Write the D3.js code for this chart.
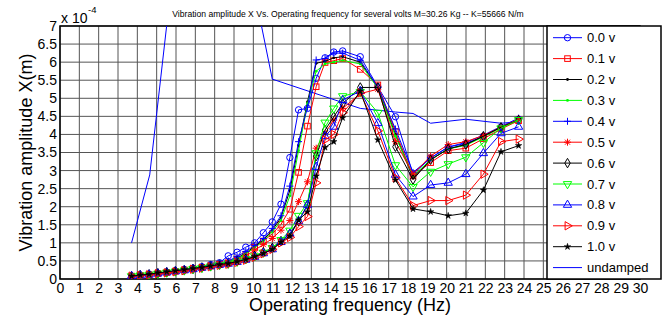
<!DOCTYPE html>
<html>
<head>
<meta charset="utf-8">
<script src="https://cdn.jsdelivr.net/npm/d3@7"></script>
<style>
body{margin:0;background:#fff;}
svg{display:block;font-family:"Liberation Sans",Arial,sans-serif;}
</style>
</head>
<body>
<svg></svg>
<script>
// measured operating frequencies (Hz), shared by every voltage run
var freqs = [3.70,4.15,4.61,5.06,5.52,5.97,6.43,6.88,7.34,7.79,8.25,8.70,9.16,9.61,10.07,10.52,10.98,11.43,11.89,12.34,12.80,13.25,13.71,14.16,14.62,15.53,16.44,17.35,18.26,19.17,20.08,20.99,21.90,22.81,23.72];

// amplitudes in units of 1e-4 m
var amp00 = [0.08,0.10,0.13,0.16,0.19,0.22,0.26,0.30,0.34,0.40,0.45,0.64,0.74,0.88,1.00,1.28,1.58,2.07,3.36,4.68,4.72,5.55,6.12,6.28,6.31,6.15,5.32,4.49,2.90,3.35,3.65,3.75,3.95,4.20,4.42];
var amp01 = [0.08,0.10,0.12,0.15,0.18,0.21,0.25,0.28,0.32,0.36,0.40,0.45,0.55,0.68,0.88,1.05,1.25,1.51,1.93,2.95,4.23,5.32,5.99,6.04,6.10,5.80,5.37,4.08,2.85,3.22,3.55,3.62,3.88,4.15,4.38];
var amp02 = [0.08,0.11,0.13,0.16,0.19,0.22,0.25,0.29,0.33,0.37,0.42,0.48,0.58,0.72,0.90,1.08,1.35,1.70,2.45,3.70,4.90,5.97,6.02,6.12,6.15,6.00,5.30,4.00,2.80,3.30,3.60,3.72,3.95,4.20,4.40];
var amp03 = [0.08,0.10,0.12,0.15,0.18,0.21,0.24,0.28,0.32,0.36,0.40,0.46,0.56,0.70,0.87,1.05,1.30,1.62,2.30,3.55,4.85,5.75,5.95,6.00,6.05,5.95,5.28,3.95,2.85,3.30,3.60,3.70,3.93,4.18,4.42];
var amp04 = [0.08,0.11,0.13,0.16,0.19,0.22,0.26,0.30,0.34,0.38,0.43,0.50,0.62,0.76,0.93,1.12,1.40,1.75,2.57,3.80,4.75,6.06,6.10,6.25,6.25,6.05,5.30,4.15,2.95,3.35,3.65,3.78,3.98,4.22,4.45];
var amp05 = [0.08,0.10,0.12,0.15,0.18,0.21,0.24,0.28,0.32,0.36,0.40,0.44,0.52,0.63,0.80,0.95,1.12,1.35,1.62,2.14,2.69,3.62,4.03,4.40,4.72,5.13,5.25,3.80,2.90,3.40,3.72,3.80,3.97,4.20,4.42];
var amp06 = [0.08,0.11,0.13,0.16,0.19,0.22,0.25,0.28,0.32,0.36,0.40,0.43,0.49,0.56,0.64,0.74,0.86,1.05,1.25,1.60,2.05,3.40,4.12,4.49,4.85,5.30,5.30,3.66,2.75,3.30,3.60,3.72,3.95,4.20,4.40];
var amp07 = [0.08,0.10,0.12,0.15,0.18,0.21,0.24,0.28,0.31,0.35,0.39,0.43,0.48,0.55,0.63,0.73,0.86,1.08,1.34,1.75,2.10,3.48,4.33,4.72,5.06,5.18,4.60,3.15,2.55,2.97,3.18,3.37,3.77,4.17,4.40];
var amp08 = [0.08,0.10,0.12,0.15,0.18,0.21,0.24,0.27,0.31,0.35,0.39,0.42,0.47,0.53,0.61,0.71,0.82,1.02,1.25,1.60,2.05,3.10,3.95,4.21,4.95,5.20,4.31,2.88,2.28,2.60,2.66,2.90,3.48,4.03,4.21];
var amp09 = [0.08,0.10,0.12,0.15,0.17,0.20,0.23,0.27,0.30,0.34,0.38,0.41,0.46,0.52,0.60,0.70,0.82,1.00,1.15,1.45,1.73,2.66,3.85,4.00,4.60,5.15,4.10,2.80,2.03,2.17,2.17,2.32,2.90,3.80,3.87];
var amp10 = [0.08,0.11,0.13,0.17,0.20,0.23,0.26,0.29,0.32,0.36,0.40,0.43,0.48,0.54,0.62,0.71,0.82,1.02,1.19,1.63,1.86,2.85,3.64,3.80,4.46,5.20,3.85,2.74,1.94,1.86,1.75,1.82,2.46,3.52,3.69];

// theoretical undamped response (goes off the top of the axes near resonance)
var undampedFreqs = [3.70,4.64,5.60,10.07,10.98,15.53,17.35,18.26,19.17,20.99,22.81,23.72];
var undampedAmp = [1.00,2.88,7.40,7.93,5.53,4.72,4.62,4.58,4.31,4.42,4.31,4.35];

var voltLabels = ["0.0 v","0.1 v","0.2 v","0.3 v","0.4 v","0.5 v","0.6 v","0.7 v","0.8 v","0.9 v","1.0 v"];
var xTicks = [0,1,2,3,4,5,6,7,8,9,10,11,12,13,14,15,16,17,18,19,20,21,22,23,24,25,26,27,28,29,30];
var yTicks = [0,0.5,1,1.5,2,2.5,3,3.5,4,4.5,5,5.5,6,6.5,7];

var series = [
  {name:voltLabels[0], values:amp00, color:"#0000ff", marker:"o"},
  {name:voltLabels[1], values:amp01, color:"#ff0000", marker:"s"},
  {name:voltLabels[2], values:amp02, color:"#000000", marker:"."},
  {name:voltLabels[3], values:amp03, color:"#00ff00", marker:"."},
  {name:voltLabels[4], values:amp04, color:"#0000ff", marker:"+"},
  {name:voltLabels[5], values:amp05, color:"#ff0000", marker:"*"},
  {name:voltLabels[6], values:amp06, color:"#000000", marker:"d"},
  {name:voltLabels[7], values:amp07, color:"#00ff00", marker:"v"},
  {name:voltLabels[8], values:amp08, color:"#0000ff", marker:"^"},
  {name:voltLabels[9], values:amp09, color:"#ff0000", marker:">"},
  {name:voltLabels[10], values:amp10, color:"#000000", marker:"p"}
];

var screen = {width:668, height:320};
var margins = {top:26, bottom:41, left:60, right:28};
var width = screen.width - margins.left - margins.right;
var height = screen.height - margins.top - margins.bottom;

var svg = d3.select("svg")
            .attr("width",screen.width)
            .attr("height",screen.height);

var xScale = d3.scaleLinear().domain([0,30]).range([0,width]);
var yScale = d3.scaleLinear().domain([0,7]).range([height,0]);

svg.append("defs").append("clipPath").attr("id","plotClip")
   .append("rect").attr("width",width).attr("height",height);

var plotLand = svg.append("g")
                  .attr("transform","translate("+margins.left+","+margins.top+")");

// grid
plotLand.append("g").selectAll("line").data(xTicks).enter().append("line")
        .attr("x1",function(d){return xScale(d);}).attr("x2",function(d){return xScale(d);})
        .attr("y1",0).attr("y2",height)
        .attr("stroke","#555").attr("stroke-width",1);
plotLand.append("g").selectAll("line").data(yTicks).enter().append("line")
        .attr("y1",function(d){return yScale(d);}).attr("y2",function(d){return yScale(d);})
        .attr("x1",0).attr("x2",width)
        .attr("stroke","#555").attr("stroke-width",1);

// axes
var xAxis = d3.axisBottom(xScale).tickValues(xTicks).tickSizeInner(0).tickSizeOuter(0).tickPadding(4);
var yAxis = d3.axisLeft(yScale).tickValues(yTicks).tickSizeInner(0).tickSizeOuter(0).tickPadding(3)
              .tickFormat(function(d){return d3.format("")(d);});

var gx = plotLand.append("g").attr("transform","translate(0,"+height+")").call(xAxis);
var gy = plotLand.append("g").call(yAxis);
[gx,gy].forEach(function(g){
  g.select(".domain").remove();
  g.selectAll("text").attr("font-size",14).attr("fill","#000")
   .attr("font-family","'Liberation Sans',Arial,sans-serif");
});

plotLand.append("rect").attr("width",width).attr("height",height)
        .attr("fill","none").attr("stroke","#000").attr("stroke-width",1.5);

// marker shapes
function drawMarker(g, type, color)
{
  if (type=="o") {
    g.append("circle").attr("r",3.2).attr("fill","none").attr("stroke",color);
  } else if (type=="s") {
    g.append("rect").attr("x",-2.8).attr("y",-2.8).attr("width",5.6).attr("height",5.6)
     .attr("fill","none").attr("stroke",color);
  } else if (type==".") {
    g.append("circle").attr("r",1.4).attr("fill",color);
  } else if (type=="+") {
    g.append("path").attr("d","M-3.5,0H3.5M0,-3.5V3.5").attr("stroke",color);
  } else if (type=="*") {
    g.append("path").attr("d","M-3.5,0H3.5M0,-3.5V3.5M-2.5,-2.5L2.5,2.5M-2.5,2.5L2.5,-2.5").attr("stroke",color);
  } else if (type=="d") {
    g.append("path").attr("d",d3.symbol(d3.symbolDiamond,26)()).attr("fill","none").attr("stroke",color);
  } else if (type=="v" || type=="^" || type==">") {
    var rot = type=="^" ? 0 : (type=="v" ? 180 : 90);
    g.append("path").attr("d",d3.symbol(d3.symbolTriangle,30)())
     .attr("transform","rotate("+rot+")")
     .attr("fill","none").attr("stroke",color);
  } else if (type=="p") {
    g.append("path").attr("d",d3.symbol(d3.symbolStar,13)()).attr("fill",color).attr("stroke",color).attr("stroke-width",0.5);
  }
}

var line = d3.line()
             .x(function(d){return xScale(d[0]);})
             .y(function(d){return yScale(d[1]);});

var curves = plotLand.append("g").attr("clip-path","url(#plotClip)");

curves.append("path")
      .datum(d3.zip(undampedFreqs,undampedAmp))
      .attr("d",line)
      .attr("fill","none").attr("stroke","#0000ff").attr("stroke-width",1);

var runs = curves.selectAll("g.run")
                 .data(series)
                 .enter()
                 .append("g")
                 .classed("run",true);

runs.append("path")
    .attr("d",function(d){return line(d3.zip(freqs,d.values));})
    .attr("fill","none")
    .attr("stroke",function(d){return d.color;})
    .attr("stroke-width",1);

runs.each(function(s){
  var pts = d3.select(this).selectAll("g.pt")
              .data(d3.zip(freqs,s.values))
              .enter().append("g")
              .attr("transform",function(d){return "translate("+xScale(d[0])+","+yScale(d[1])+")";});
  pts.each(function(){ drawMarker(d3.select(this), s.marker, s.color); });
});

// texts
svg.append("text").attr("x",348).attr("y",17).attr("text-anchor","middle")
   .attr("font-size",8.6)
   .text("Vibration amplitude X Vs. Operating frequency for several volts M=30.26 Kg -- K=55666 N/m");

svg.append("text").attr("x",61).attr("y",23).attr("font-size",14).text("x 10");
svg.append("text").attr("x",88).attr("y",13).attr("font-size",9.5).text("-4");

svg.append("text").attr("x",margins.left+width/2).attr("y",311).attr("text-anchor","middle")
   .attr("font-size",18).text("Operating frequency (Hz)");

svg.append("text").attr("transform","translate(31.5,"+(margins.top+height/2)+") rotate(-90)")
   .attr("text-anchor","middle").attr("font-size",18).text("Vibration amplitude X(m)");

// legend
var legendItems = series.concat([{name:"undamped", color:"#0000ff", marker:null}]);
var legend = svg.append("g").attr("transform","translate(547,26)");
legend.append("rect").attr("width",114).attr("height",253)
      .attr("fill","#fff").attr("stroke","#000").attr("stroke-width",1.5);

var legendLines = legend.selectAll("g.leg")
                        .data(legendItems)
                        .enter()
                        .append("g")
                        .attr("transform",function(d,i){return "translate(0,"+(11.7+i*20.9)+")";});

legendLines.append("line").attr("x1",6).attr("x2",35).attr("y1",0).attr("y2",0)
           .attr("stroke",function(d){return d.color;}).attr("stroke-width",1);
legendLines.each(function(d){
  if (d.marker) {
    drawMarker(d3.select(this).append("g").attr("transform","translate(20.5,0)"), d.marker, d.color);
  }
});
legendLines.append("text").attr("x",40).attr("y",0).attr("dy","0.35em")
           .attr("font-size",13).text(function(d){return d.name;});
</script>
</body>
</html>
